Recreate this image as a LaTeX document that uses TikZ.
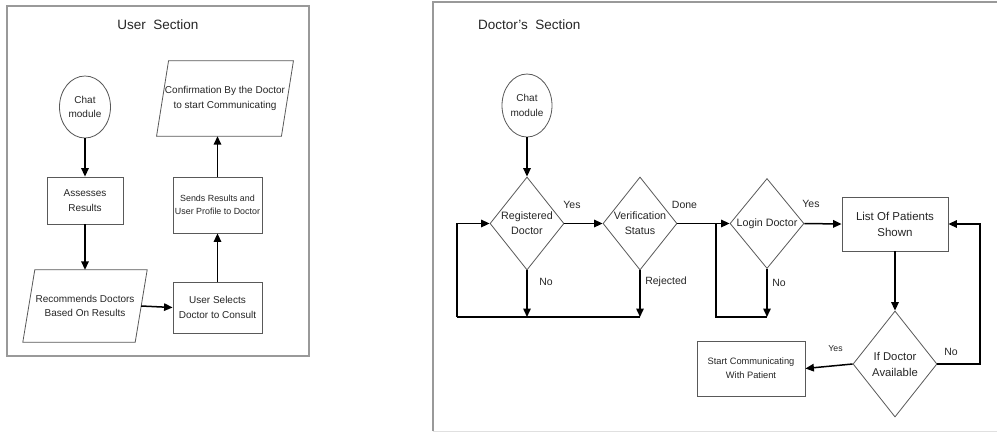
\documentclass[tikz,border=0pt]{standalone}
\usepackage{fontspec}
\setmainfont{Liberation Sans}
\usetikzlibrary{shapes.geometric,arrows.meta}
\begin{document}
\begin{tikzpicture}[x=1pt,y=-1pt,
  outl/.style={draw=black!65, line width=0.8pt},
  frame/.style={draw=black!40, line width=1.2pt},
  tx/.style={text=black!85, align=center, inner sep=0pt},
  boxn/.style={outl, tx, rectangle},
  elln/.style={outl, tx, ellipse, inner sep=0pt},
  dian/.style={outl, diamond, inner sep=0pt},
  para/.style={tx, draw=none, rectangle},
  lbl/.style={tx, font=\fontsize{10.5}{12}\selectfont},
  conn/.style={line width=1.5pt, -{Triangle[length=8.5pt,width=7.5pt]}},
  wire/.style={line width=1.5pt},
  fa/.style={font=\fontsize{10}{14.5}\selectfont},
  fb/.style={font=\fontsize{8.9}{13}\selectfont},
  fc/.style={font=\fontsize{10.7}{15}\selectfont},
  fd/.style={font=\fontsize{9.3}{14}\selectfont}
]
\useasboundingbox (0,0) rectangle (997,432);
\fill[white] (0,0) rectangle (997,432);

% frames
\draw[frame] (7,6) rectangle (309,356);
\draw[frame] (433,431) -- (433,2) -- (997,2);
\draw[draw=black!12, line width=1pt] (433,431) -- (997,431);

% ---------------- User section ----------------
\node[tx, font=\fontsize{13.5}{16}\selectfont] (utitle) at (158,25) {User\ \ Section};

\node[elln, fa, minimum width=51pt, minimum height=62pt] (uchat) at (85,107) {Chat\\module};
\node[boxn, fa, minimum width=76pt, minimum height=47pt] (uass) at (85,200.5) {Assesses\\Results};
\node[para, fa, minimum width=112pt, minimum height=72pt] (urec) at (85,306) {Recommends Doctors\\Based On Results};
\draw[outl] ([xshift=-6pt]urec.south west) -- ([xshift=-6pt]urec.south east)
  -- ([xshift=6pt]urec.north east) -- ([xshift=6pt]urec.north west) -- cycle;
\node[boxn, fa, minimum width=89pt, minimum height=51pt] (usel) at (217.5,307.5) {User Selects\\Doctor to Consult};
\node[boxn, fb, minimum width=89pt, minimum height=56pt] (usend) at (217.5,205) {Sends Results and\\User Profile to Doctor};
\node[para, fa, minimum width=124.5pt, minimum height=75pt] (uconf) at (225,98.5) {Confirmation By the Doctor\\to start Communicating};
\draw[outl] ([xshift=-6pt]uconf.south west) -- ([xshift=-6pt]uconf.south east)
  -- ([xshift=6pt]uconf.north east) -- ([xshift=6pt]uconf.north west) -- cycle;

\draw[conn] (uchat.south) -- (uass.north);
\draw[conn] (uass.south) -- (urec.north);
\draw[conn] (urec.east) -- (usel.west);
\draw[conn] (usel.north) -- (usend.south);
\draw[conn] (usend.north) -- (usend.north |- uconf.south);

% ---------------- Doctor section ----------------
\node[tx, font=\fontsize{13.5}{16}\selectfont, anchor=west] (dtitle) at (478,25) {Doctor's\ \ Section};

\node[elln, fa, minimum width=50pt, minimum height=63pt] (dchat) at (527,105.5) {Chat\\module};
\node[dian, minimum width=74pt, minimum height=93pt,
  label={[tx, fc]center:Registered\\Doctor}] (dreg) at (527,223.5) {};
\node[dian, minimum width=74pt, minimum height=93pt,
  label={[tx, fc]center:Verification\\Status}] (dver) at (640,223.5) {};
\node[dian, minimum width=74pt, minimum height=90pt,
  label={[tx, fc]center:Login Doctor}] (dlog) at (767,223.5) {};
\node[boxn, font=\fontsize{11.5}{16}\selectfont, minimum width=106pt, minimum height=54pt] (dlist) at (895,224) {List Of Patients\\Shown};
\node[dian, minimum width=84pt, minimum height=106pt,
  label={[tx, font=\fontsize{11.3}{16}\selectfont]center:If Doctor\\Available}] (davail) at (895,364) {};
\node[boxn, fd, minimum width=108pt, minimum height=55pt] (dstart) at (751,368.5) {Start Communicating\\With Patient};

\coordinate (jA) at (457,317);
\coordinate (jB) at (716,317);

\draw[conn] (dchat.south) -- (dreg.north);
\draw[conn] (dreg.east) -- (dver.west);
\draw[conn] (dver.east) -- (dlog.west);
\draw[conn] (dreg.south) -- (dreg.south |- jA);
\draw[conn] (dver.south) -- (dver.south |- jA);
\draw[wire] (dver.south |- jA) -- (jA);
\draw[conn] (jA) |- (dreg.west);
\draw[wire] (jB |- dver.east) -- (jB) -- (dlog.south |- jB);
\draw[conn] (dlog.south) -- (dlog.south |- jB);
\draw[conn] (dlog.east) -- (dlist.west);
\draw[conn] (dlist.south) -- (davail.north);
\coordinate (jC) at (980,364);
\draw[conn] (davail.east) -- (jC) |- (dlist.east);
\draw[conn] (davail.west) -- (dstart.east);

% labels
\node[lbl] (l1) at (572,205) {Yes};
\node[lbl] (l2) at (684.5,205) {Done};
\node[lbl] (l3) at (546,282) {No};
\node[lbl] (l4) at (666,282) {Rejected};
\node[lbl] (l5) at (811,204) {Yes};
\node[lbl] (l6) at (779,283) {No};
\node[lbl] (l7) at (951,352) {No};
\node[tx, font=\fontsize{8.7}{10}\selectfont] (l8) at (835.5,349) {Yes};
\end{tikzpicture}
\end{document}
